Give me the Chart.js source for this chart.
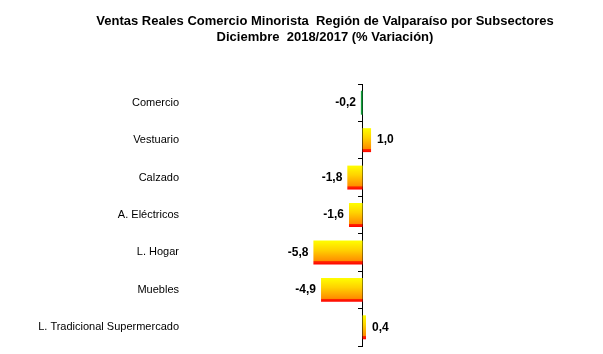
<!DOCTYPE html>
<html>
<head>
<meta charset="utf-8">
<script src="https://cdn.jsdelivr.net/npm/chart.js@4.4.1/dist/chart.umd.min.js"></script>
<style>
  html, body { margin: 0; padding: 0; background: #fff; }
  canvas { display: block; }
</style>
</head>
<body>
<canvas id="myChart" width="603" height="354"></canvas>
<script>
const categories = ['Comercio', 'Vestuario', 'Calzado', 'A. Eléctricos', 'L. Hogar', 'Muebles', 'L. Tradicional Supermercado'];
const values = [-0.2, 1.0, -1.8, -1.6, -5.8, -4.9, 0.4];
const titleLines = ['Ventas Reales Comercio Minorista  Región de Valparaíso por Subsectores', 'Diciembre  2018/2017 (% Variación)'];

const FONT = '"Liberation Sans", Arial, Helvetica, sans-serif';
const BAR_PART = 0.64;

function barFill(context) {
    const chart = context.chart;
    if (context.dataIndex === 0) {
        return '#14a03c';
    }
    if (!chart.chartArea) {
        return '#ffcc00';
    }
    const y = chart.scales.y;
    const center = y.getPixelForValue(context.dataIndex);
    const half = (y.height / categories.length) * BAR_PART / 2;
    const g = chart.ctx.createLinearGradient(0, center - half, 0, center + half);
    g.addColorStop(0, '#ffff00');
    g.addColorStop(0.4, '#ffd200');
    g.addColorStop(0.86, '#ff8c00');
    g.addColorStop(0.88, '#ff2a00');
    g.addColorStop(1, '#ff0000');
    return g;
}

function noEdgePadding(scale) {
    scale.paddingTop = 0;
    scale.paddingBottom = 0;
}

// el eje de categorias recorta sus textos a su propia caja: se ensancha hacia la izquierda
const widenLabels = {
    id: 'widenLabels',
    afterLayout(chart) {
        chart.scales.y.left = 0;
    }
};

// etiquetas de valor al final de cada barra
const valueLabels = {
    id: 'valueLabels',
    afterDatasetsDraw(chart) {
        const c = chart.ctx;
        const meta = chart.getDatasetMeta(0);
        c.save();
        c.font = 'bold 12px ' + FONT;
        c.fillStyle = '#000';
        c.textBaseline = 'middle';
        meta.data.forEach((bar, i) => {
            const v = values[i];
            const txt = v.toFixed(1).replace('.', ',');
            if (v < 0) {
                c.textAlign = 'right';
                c.fillText(txt, bar.x - 5, bar.y);
            } else {
                c.textAlign = 'left';
                c.fillText(txt, bar.x + 6, bar.y);
            }
        });
        c.restore();
    }
};

const canvas = document.getElementById('myChart').getContext('2d');
const myChart = new Chart(canvas, {
    type: 'bar',
    data: {
        labels: categories,
        datasets: [{
            data: values,
            backgroundColor: barFill,
            borderWidth: 0,
            categoryPercentage: BAR_PART,
            barPercentage: 1
        }]
    },
    options: {
        indexAxis: 'y',
        responsive: false,
        animation: false,
        layout: {
            padding: { left: 50, right: 3, top: 0, bottom: 8 }
        },
        scales: {
            x: {
                display: false,
                min: -20,
                max: 28
            },
            y: {
                position: 'left',
                offset: true,
                afterFit: (scale) => { scale.width = 143; noEdgePadding(scale); },
                grid: { display: false },
                border: { display: false },
                ticks: {
                    color: '#000',
                    padding: 6,
                    font: { family: FONT, size: 11 }
                }
            },
            yZero: {
                axis: 'y',
                type: 'category',
                position: { x: 0 },
                offset: true,
                afterFit: noEdgePadding,
                grid: {
                    offset: true,
                    drawOnChartArea: false,
                    drawTicks: true,
                    tickLength: 4,
                    color: '#000'
                },
                border: { display: true, color: '#000', width: 1 },
                ticks: { display: false }
            }
        },
        plugins: {
            legend: { display: false },
            tooltip: { enabled: false },
            title: {
                display: true,
                text: titleLines,
                color: '#000',
                font: { family: FONT, size: 13, weight: 'bold', lineHeight: 1.25 },
                padding: { top: 13, bottom: 38.5 }
            }
        }
    },
    plugins: [widenLabels, valueLabels]
});
</script>
</body>
</html>
